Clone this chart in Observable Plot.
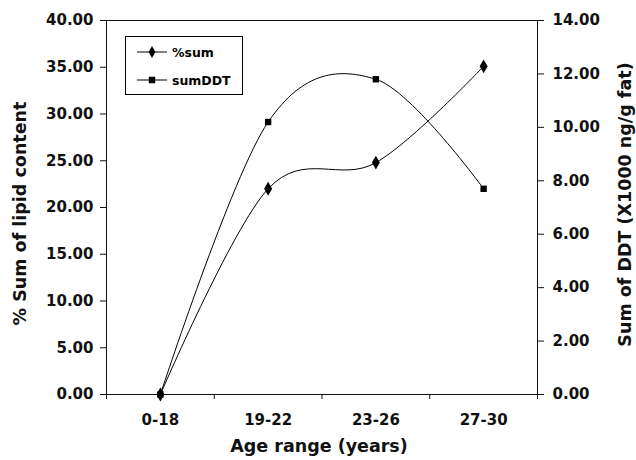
<!DOCTYPE html>
<html>
<head>
<meta charset="utf-8">
<script src="https://cdn.jsdelivr.net/npm/d3@7"></script>
<script src="https://cdn.jsdelivr.net/npm/@observablehq/plot@0.6"></script>
<style>
  html, body { margin: 0; padding: 0; background: #fff; }
  #wrap { position: relative; width: 636px; height: 460px; }
  #legend { position: absolute; left: 125px; top: 36px; width: 116px; height: 57px;
    border: 1px solid #000; background: #fff; font: bold 12.5px "DejaVu Sans", sans-serif; }
  #legend .row { position: absolute; left: 11px; height: 14px; display: flex; align-items: center; }
  #legend svg { display: block; margin-right: 5px; }
</style>
</head>
<body>
<div id="wrap"></div>
<script>
const categories = ["0-18", "19-22", "23-26", "27-30"];
const pctSum = [0, 22.0, 24.8, 35.1];       // left axis, % Sum of lipid content
const sumDDT = [0, 10.2, 11.8, 7.7];        // right axis, X1000 ng/g fat
const leftTicks = [0, 5, 10, 15, 20, 25, 30, 35, 40];
const rightTicks = [0, 2, 4, 6, 8, 10, 12, 14];
const seriesNames = ["%sum", "sumDDT"];
const leftMax = 40, rightMax = 14;
const toLeft = v => v * leftMax / rightMax;

const idx = d3.range(categories.length);
const rowsPct = idx.map(i => ({i, v: pctSum[i]}));
const rowsDDT = idx.map(i => ({i, v: toLeft(sumDDT[i])}));
const bounds = d3.range(categories.length + 1).map(i => i - 0.5);

const chart = Plot.plot({
  width: 636,
  height: 460,
  marginLeft: 106,
  marginRight: 99,
  marginTop: 20,
  marginBottom: 66,
  style: {fontFamily: "DejaVu Sans, sans-serif", fontWeight: "bold", fontSize: "15px", color: "#111", background: "#fff"},
  x: {type: "linear", domain: [-0.5, categories.length - 0.5]},
  y: {domain: [0, leftMax]},
  marks: [
    Plot.frame({stroke: "#111"}),
    Plot.axisY(leftTicks, {anchor: "left", tickSize: 6, tickPadding: 7, tickFormat: d => d.toFixed(2), label: null}),
    Plot.axisY(rightTicks.map(toLeft), {anchor: "right", tickSize: 6, tickPadding: 9, tickFormat: d => (d * rightMax / leftMax).toFixed(2), label: null}),
    Plot.axisX(bounds, {anchor: "bottom", tickSize: 5, tickFormat: () => "", label: null}),
    Plot.axisX(idx, {anchor: "bottom", tickSize: 0, tickPadding: 20, tickFormat: i => categories[i], label: null}),
    Plot.line(rowsPct, {x: "i", y: "v", curve: "cardinal", tension: 0, stroke: "#000", strokeWidth: 1}),
    Plot.line(rowsDDT, {x: "i", y: "v", curve: "cardinal", tension: 0, stroke: "#000", strokeWidth: 1}),
    Plot.dot(rowsPct, {x: "i", y: "v", symbol: "diamond", r: 4.2, fill: "#000", stroke: null}),
    Plot.dot(rowsDDT, {x: "i", y: "v", symbol: "square", r: 3.6, fill: "#000", stroke: null}),
    Plot.text(["Age range (years)"], {frameAnchor: "bottom", textAnchor: "middle", lineAnchor: "middle", dy: 52, dx: -3, text: d => d, fontSize: 17.5, fill: "#111"}),
    Plot.text(["% Sum of lipid content"], {frameAnchor: "left", textAnchor: "middle", lineAnchor: "middle", dx: -86, dy: 6, rotate: -90, text: d => d, fontSize: 17.5, fill: "#111"}),
    Plot.text(["Sum of DDT (X1000 ng/g fat)"], {frameAnchor: "right", textAnchor: "middle", lineAnchor: "middle", dx: 88, dy: -3, rotate: -90, text: d => d, fontSize: 17.5, fill: "#111"})
  ]
});

const wrap = document.getElementById("wrap");
wrap.appendChild(chart);

// legend
const legend = document.createElement("div");
legend.id = "legend";
const symbols = [d3.symbolDiamond, d3.symbolSquare];
const sizes = [40, 42];
seriesNames.forEach((name, k) => {
  const row = document.createElement("div");
  row.className = "row";
  row.style.top = (k === 0 ? 8 : 36) + "px";
  const svg = d3.create("svg").attr("width", 30).attr("height", 14);
  svg.append("line").attr("x1", 0).attr("x2", 30).attr("y1", 7).attr("y2", 7).attr("stroke", "#000");
  svg.append("path").attr("transform", "translate(15,7)").attr("d", d3.symbol(symbols[k], sizes[k])()).attr("fill", "#000");
  row.appendChild(svg.node());
  const t = document.createElement("span");
  t.textContent = name;
  row.appendChild(t);
  legend.appendChild(row);
});
wrap.appendChild(legend);
</script>
</body>
</html>
